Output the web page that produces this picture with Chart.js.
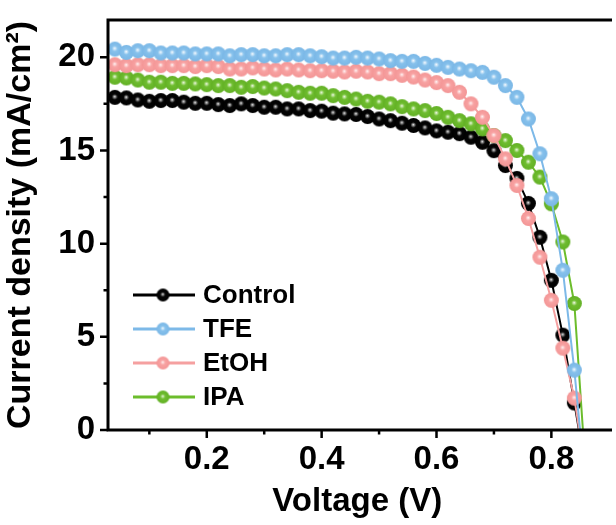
<!DOCTYPE html>
<html>
<head>
<meta charset="utf-8">
<script src="https://cdn.jsdelivr.net/npm/chart.js@4"></script>
<style>
  html, body { margin: 0; padding: 0; background: #fff; overflow: hidden; }
  #wrap { width: 616px; height: 525px; position: relative; }
</style>
</head>
<body>
<div id="wrap"><canvas id="jv" width="616" height="525"></canvas></div>
<script>
// J-V curves, voltage in V, current density in mA/cm2
const voltage = [0.04, 0.06, 0.08, 0.10, 0.12, 0.14, 0.16, 0.18, 0.20, 0.22,
                 0.24, 0.26, 0.28, 0.30, 0.32, 0.34, 0.36, 0.38, 0.40, 0.42,
                 0.44, 0.46, 0.48, 0.50, 0.52, 0.54, 0.56, 0.58, 0.60, 0.62,
                 0.64, 0.66, 0.68, 0.70, 0.72, 0.74, 0.76, 0.78, 0.80, 0.82,
                 0.84, 0.86];

const control = [17.85, 17.82, 17.71, 17.64, 17.68, 17.68, 17.59, 17.53, 17.53, 17.46,
                 17.41, 17.50, 17.41, 17.32, 17.32, 17.23, 17.23, 17.14, 17.11, 17.00,
                 16.96, 16.93, 16.82, 16.69, 16.60, 16.46, 16.34, 16.21, 16.05, 15.98,
                 15.90, 15.71, 15.44, 14.99, 14.19, 13.50, 12.16, 10.34, 8.03, 5.09,
                 1.45, -2.2];
const tfe = [20.44, 20.26, 20.35, 20.35, 20.23, 20.23, 20.23, 20.18, 20.18, 20.18,
             20.08, 20.14, 20.14, 20.08, 20.08, 20.14, 20.14, 20.08, 20.03, 19.96,
             19.96, 20.00, 19.96, 19.91, 19.82, 19.78, 19.78, 19.67, 19.57, 19.46,
             19.37, 19.28, 19.19, 18.93, 18.48, 17.85, 16.69, 14.82, 12.41, 8.57,
             3.21, -3.2];
const etoh = [19.60, 19.55, 19.60, 19.60, 19.55, 19.55, 19.55, 19.50, 19.55, 19.50,
              19.37, 19.37, 19.43, 19.37, 19.32, 19.37, 19.32, 19.28, 19.28, 19.25,
              19.21, 19.25, 19.21, 19.12, 19.12, 19.03, 18.94, 18.78, 18.64, 18.48,
              18.12, 17.50, 16.78, 15.80, 14.55, 13.12, 11.35, 9.27, 6.96, 4.39,
              1.71, -2.3];
const ipa = [18.93, 18.89, 18.78, 18.66, 18.66, 18.60, 18.60, 18.57, 18.53, 18.48,
             18.48, 18.39, 18.43, 18.35, 18.30, 18.21, 18.12, 18.07, 18.07, 17.94,
             17.85, 17.76, 17.64, 17.59, 17.50, 17.35, 17.23, 17.14, 16.98, 16.78,
             16.60, 16.43, 16.16, 15.80, 15.53, 15.00, 14.37, 13.57, 12.14, 10.09,
             6.79, -2.3];

const seriesNames = ['Control', 'TFE', 'EtOH', 'IPA'];
const xTicks = [0.2, 0.4, 0.6, 0.8];
const xMinor = [0.1, 0.3, 0.5, 0.7];
const yTicks = [0, 5, 10, 15, 20];
const yMinor = [2.5, 7.5, 12.5, 17.5];

// shaded ball marker
function makeBall(glint, base, edge, r) {
  const size = Math.ceil(r * 2) + 2;
  const c = document.createElement('canvas');
  c.width = size; c.height = size;
  const g = c.getContext('2d');
  const cx = size / 2, cy = size / 2;
  const grad = g.createRadialGradient(cx - 0.3, cy - 0.8, 0, cx, cy, r);
  grad.addColorStop(0, '#ffffff');
  grad.addColorStop(0.14, glint);
  grad.addColorStop(0.38, base);
  grad.addColorStop(1, edge);
  g.fillStyle = grad;
  g.beginPath();
  g.arc(cx, cy, r, 0, Math.PI * 2);
  g.fill();
  return c;
}

const palette = [
  { line: '#000000', glint: '#8c8c8c', base: '#050505', edge: '#000000', order: 3 },
  { line: '#7db9e8', glint: '#cbe5f8', base: '#86c1ec', edge: '#7ab7e6', order: 0 },
  { line: '#f5a0a0', glint: '#fdd3d3', base: '#f8a2a2', edge: '#f39696', order: 1 },
  { line: '#6cbd2c', glint: '#bce29a', base: '#6fbd30', edge: '#62b024', order: 2 }
];
const balls = palette.map(p => makeBall(p.glint, p.base, p.edge, 7.5));
const legendBalls = palette.map(p => makeBall(p.glint, p.base, p.edge, 6.5));

const series = [control, tfe, etoh, ipa];

const datasets = series.map((vals, i) => ({
  label: seriesNames[i],
  data: voltage.map((v, k) => ({ x: v, y: vals[k] })),
  borderColor: palette[i].line,
  backgroundColor: palette[i].line,
  borderWidth: 2,
  pointStyle: balls[i],
  pointRadius: 7.5,
  tension: 0,
  order: palette[i].order
}));

const frame = {
  id: 'frame',
  afterDraw(chart) {
    const ctx = chart.ctx;
    const a = chart.chartArea;
    const xs = chart.scales.x, ys = chart.scales.y;
    ctx.save();
    ctx.strokeStyle = '#000';
    ctx.lineWidth = 3;
    ctx.lineCap = 'square';
    ctx.beginPath();
    ctx.moveTo(a.right + 4, a.top);
    ctx.lineTo(a.left, a.top);
    ctx.lineTo(a.left, a.bottom);
    ctx.lineTo(a.right + 4, a.bottom);
    ctx.stroke();

    ctx.lineWidth = 2.5;
    ctx.lineCap = 'butt';
    ctx.beginPath();
    xTicks.forEach(v => { const p = xs.getPixelForValue(v); ctx.moveTo(p, a.bottom); ctx.lineTo(p, a.bottom + 8); });
    xMinor.forEach(v => { const p = xs.getPixelForValue(v); ctx.moveTo(p, a.bottom); ctx.lineTo(p, a.bottom + 4.5); });
    yTicks.forEach(v => { const p = ys.getPixelForValue(v); ctx.moveTo(a.left, p); ctx.lineTo(a.left - 8, p); });
    yMinor.forEach(v => { const p = ys.getPixelForValue(v); ctx.moveTo(a.left, p); ctx.lineTo(a.left - 4.5, p); });
    ctx.stroke();

    // legend
    ctx.font = 'bold 26px "Liberation Sans", Arial, sans-serif';
    ctx.textBaseline = 'middle';
    ctx.fillStyle = '#000';
    seriesNames.forEach((name, i) => {
      const y = 295 + i * 34;
      ctx.strokeStyle = palette[i].line;
      ctx.lineWidth = 3;
      ctx.beginPath();
      ctx.moveTo(133, y);
      ctx.lineTo(195, y);
      ctx.stroke();
      const b = legendBalls[i];
      ctx.drawImage(b, 163 - b.width / 2, y - b.height / 2);
      ctx.fillText(name, 203, y + 1);
    });
    ctx.restore();
  }
};

const tickFont = { family: '"Liberation Sans", Arial, sans-serif', size: 33, weight: 'bold' };

new Chart(document.getElementById('jv'), {
  type: 'line',
  data: { datasets: datasets },
  options: {
    responsive: false,
    animation: false,
    devicePixelRatio: 1,
    layout: { padding: { top: 20, right: 0, bottom: 0, left: 0 } },
    plugins: { legend: { display: false }, tooltip: { enabled: false } },
    scales: {
      x: {
        type: 'linear',
        min: 0.028,
        max: 0.896,
        grid: { display: false, drawTicks: false },
        border: { display: false },
        afterBuildTicks: s => { s.ticks = xTicks.map(v => ({ value: v })); },
        afterFit: s => { s.height = 95; s.paddingLeft = 0; s.paddingRight = 0; },
        ticks: {
          color: '#000',
          font: tickFont,
          padding: 10,
          maxRotation: 0,
          callback: v => v.toFixed(1)
        },
        title: {
          display: true,
          text: 'Voltage (V)',
          color: '#000',
          font: tickFont,
          padding: { top: 0, bottom: 3 }
        }
      },
      y: {
        min: 0,
        max: 22,
        grid: { display: false, drawTicks: false },
        border: { display: false },
        afterBuildTicks: s => { s.ticks = yTicks.map(v => ({ value: v })); },
        afterFit: s => { s.width = 108; s.paddingTop = 0; s.paddingBottom = 0; },
        ticks: {
          color: '#000',
          font: tickFont,
          padding: 13
        },
        title: {
          display: true,
          text: 'Current density (mA/cm²)',
          color: '#000',
          font: { family: '"Liberation Sans", Arial, sans-serif', size: 34, weight: 'bold' },
          padding: { top: 0, bottom: 0 }
        }
      }
    }
  },
  plugins: [frame]
});
</script>
</body>
</html>
